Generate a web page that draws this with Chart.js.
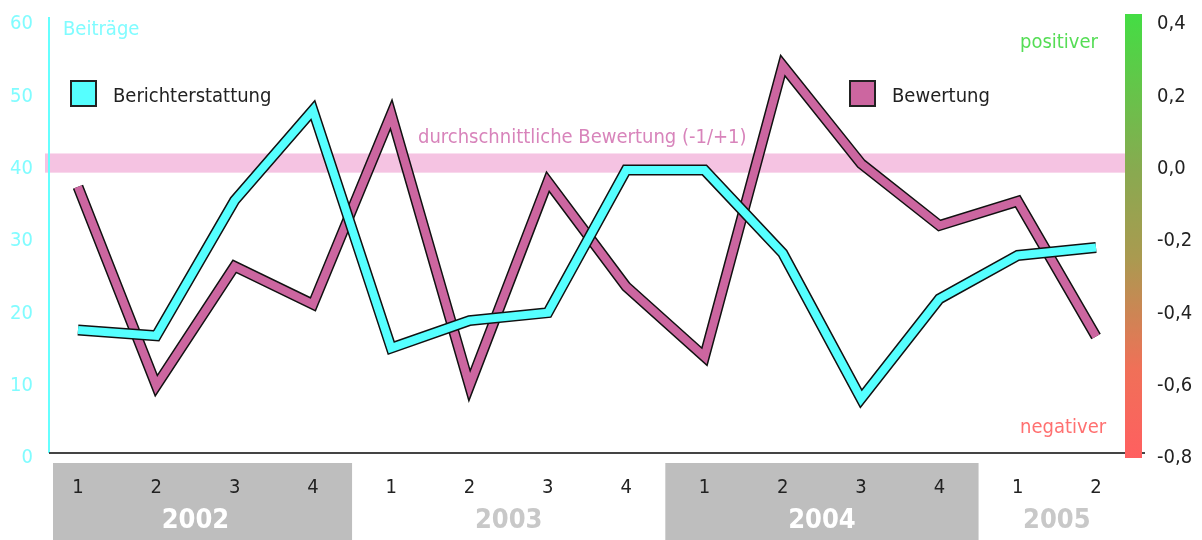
<!DOCTYPE html>
<html lang="de">
<head>
<meta charset="UTF-8">
<title>Berichterstattung und Bewertung 2002-2005</title>
<script src="https://cdn.jsdelivr.net/npm/chart.js@4.4.1/dist/chart.umd.min.js"></script>
<style>
    body { margin: 0; background: #fff; }
    canvas { display: block; }
</style>
</head>
<body>
<canvas id="chart" width="1202" height="540"></canvas>
<script>
// data
var quarters = ['1', '2', '3', '4', '1', '2', '3', '4', '1', '2', '3', '4', '1', '2'];
var years = ['2002', '2003', '2004', '2005'];
var berichterstattung = [17.7, 16.9, 35.6, 48.1, 15.2, 19.0, 20.1, 39.8, 39.8, 28.3, 8.2, 22.0, 28.0, 29.1];
var bewertung = [-0.05, -0.60, -0.27, -0.375, 0.15, -0.60, -0.036, -0.326, -0.52, 0.285, 0.014, -0.157, -0.09, -0.464];
var avgBand = [-0.011, 0.042];

var FONT = '"Liberation Sans Narrow", "DejaVu Sans Condensed", "DejaVu Sans", sans-serif';
Chart.defaults.font.family = FONT;

var CYAN = '#55ffff';
var PINK = '#cc66a0';
var NONE = 'rgba(0,0,0,0)';

function pts(arr) {
    return arr.map(function (v, i) { return { x: i, y: v }; });
}

function fmtDe(v) {
    if (Math.abs(v) < 1e-9) return '0,0';
    return v.toFixed(1).replace('.', ',');
}

// band, axis lines, gradient bar, year boxes, legend and notes
var decor = {
    id: 'decor',
    beforeDraw: function (chart) {
        var ctx = chart.ctx, x = chart.scales.x, a = chart.chartArea;
        ctx.save();
        years.forEach(function (yr, k) {
            var first = k * 4, last = Math.min(first + 3, quarters.length - 1);
            var x0 = Math.max(x.getPixelForValue(first - 0.5), a.left + 4);
            var x1 = x.getPixelForValue(last + 0.5);
            var shaded = k % 2 === 0;
            if (shaded) {
                ctx.fillStyle = '#bebebe';
                ctx.fillRect(x0, a.bottom + 5, x1 - x0, 540 - a.bottom);
            }
            ctx.fillStyle = shaded ? '#ffffff' : '#c8c8c8';
            ctx.font = 'bold 27px ' + FONT;
            ctx.textAlign = 'center';
            ctx.textBaseline = 'middle';
            ctx.fillText(yr, (x.getPixelForValue(first) + x.getPixelForValue(last)) / 2, 521);
        });
        ctx.restore();
    },
    beforeDatasetsDraw: function (chart) {
        var ctx = chart.ctx, a = chart.chartArea, yR = chart.scales.yR;
        ctx.save();
        // average band
        var b0 = yR.getPixelForValue(avgBand[1]), b1 = yR.getPixelForValue(avgBand[0]);
        ctx.fillStyle = '#f5c3e2';
        ctx.fillRect(a.left - 4, b0, a.right - a.left + 4, b1 - b0);
        // left axis line
        ctx.strokeStyle = '#66ffff';
        ctx.lineWidth = 2;
        ctx.beginPath();
        ctx.moveTo(a.left, a.top - 7);
        ctx.lineTo(a.left, a.bottom - 5);
        ctx.stroke();
        // base line
        ctx.strokeStyle = '#444';
        ctx.beginPath();
        ctx.moveTo(a.left, a.bottom - 5);
        ctx.lineTo(a.right + 20, a.bottom - 5);
        ctx.stroke();
        // gradient bar on the right
        var g = ctx.createLinearGradient(0, a.top - 10, 0, a.bottom);
        g.addColorStop(0, '#44dd44');
        g.addColorStop(0.35, '#88aa50');
        g.addColorStop(0.55, '#aa9a50');
        g.addColorStop(0.8, '#f07058');
        g.addColorStop(1, '#ff5f60');
        ctx.fillStyle = g;
        ctx.fillRect(a.right, a.top - 10, 17, a.bottom - a.top + 10);
        ctx.restore();
    },
    afterDraw: function (chart) {
        var ctx = chart.ctx;
        ctx.save();
        ctx.textBaseline = 'middle';
        ctx.textAlign = 'left';
        ctx.font = '20px ' + FONT;
        ctx.fillStyle = '#80fcff';
        ctx.fillText('Beiträge', 63, 30);

        // legend
        [[71, 'Berichterstattung', CYAN], [850, 'Bewertung', PINK]].forEach(function (it) {
            ctx.fillStyle = it[2];
            ctx.fillRect(it[0], 81, 25, 25);
            ctx.strokeStyle = '#222';
            ctx.lineWidth = 2;
            ctx.strokeRect(it[0], 81, 25, 25);
            ctx.fillStyle = '#222';
            ctx.font = '20px ' + FONT;
            ctx.fillText(it[1], it[0] + 42, 97);
        });

        ctx.font = '20px ' + FONT;
        ctx.fillStyle = '#d884bb';
        ctx.fillText('durchschnittliche Bewertung (-1/+1)', 418, 138);
        ctx.fillStyle = '#55dd55';
        ctx.fillText('positiver', 1020, 43);
        ctx.fillStyle = '#ff7070';
        ctx.fillText('negativer', 1020, 428);
        ctx.restore();
    }
};

function line(data, axis, color, width, order) {
    return {
        data: pts(data),
        yAxisID: axis,
        borderColor: color,
        borderWidth: width,
        pointRadius: 0,
        tension: 0,
        fill: false,
        borderJoinStyle: 'miter',
        borderCapStyle: 'butt',
        order: order
    };
}

new Chart(document.getElementById('chart'), {
    type: 'line',
    data: {
        datasets: [
            line(berichterstattung, 'yL', CYAN, 8, 1),
            line(berichterstattung, 'yL', '#111', 11, 2),
            line(bewertung, 'yR', PINK, 8, 3),
            line(bewertung, 'yR', '#111', 11, 4)
        ]
    },
    options: {
        responsive: false,
        animation: false,
        devicePixelRatio: 1,
        layout: { padding: { top: 24, left: 0, right: 0, bottom: 0 } },
        plugins: { legend: { display: false }, tooltip: { enabled: false } },
        scales: {
            x: {
                type: 'linear',
                min: -0.37,
                max: 13.37,
                grid: { display: false, drawTicks: false },
                border: { display: false },
                afterBuildTicks: function (s) {
                    s.ticks = quarters.map(function (q, i) { return { value: i }; });
                },
                afterFit: function (s) { s.height = 82; },
                ticks: {
                    autoSkip: false,
                    maxRotation: 0,
                    padding: 18,
                    color: '#222',
                    font: { size: 20 },
                    callback: function (v) { return quarters[v]; }
                }
            },
            yL: {
                position: 'left',
                min: 0,
                max: 60,
                grid: { drawOnChartArea: false, drawTicks: true, tickLength: 10, color: NONE },
                border: { display: false },
                afterFit: function (s) { s.width = 49; },
                ticks: { stepSize: 10, padding: 6, color: '#80fcff', font: { size: 20 } }
            },
            yR: {
                position: 'right',
                min: -0.8,
                max: 0.4,
                grid: { drawOnChartArea: false, drawTicks: true, tickLength: 26, color: NONE },
                border: { display: false },
                afterFit: function (s) { s.width = 77; },
                ticks: {
                    stepSize: 0.2,
                    padding: 6,
                    color: '#222',
                    font: { size: 20 },
                    callback: function (v) { return fmtDe(v); }
                }
            }
        }
    },
    plugins: [decor]
});
</script>
</body>
</html>
